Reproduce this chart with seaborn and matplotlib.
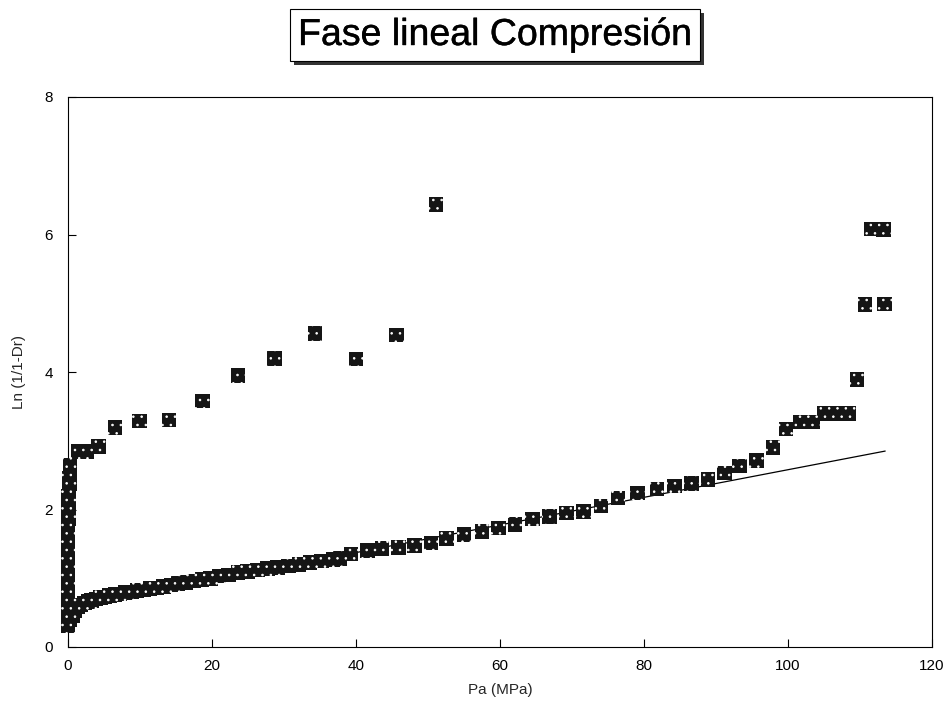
import numpy as np
import pandas as pd
import matplotlib
matplotlib.use("Agg")
import matplotlib.pyplot as plt
import matplotlib.patheffects as pe
import seaborn as sns

# ---- data ----
# vertical column near Pa = 0
col_x = [0.0, 0.0, 0.0, 0.0, 0.0, 0.0, 0.0, 0.0, 0.0, 0.0, 0.0, 0.0, 0.0,
         0.0, 0.0, 0.05, 0.05, 0.1, 0.1, 0.15, 0.2, 0.2, 0.25, 0.3, 0.3]
col_y = [0.31, 0.36, 0.44, 0.52, 0.61, 0.72, 0.83, 0.95, 1.06, 1.18, 1.29,
         1.40, 1.52, 1.63, 1.75, 1.86, 1.97, 2.08, 2.19, 2.29, 2.38, 2.46,
         2.53, 2.59, 2.64]

# upper branch
up_x = [1.4, 2.6, 4.2, 6.5, 9.9, 14.0, 18.7, 23.6, 28.7, 34.3, 40.0, 45.6, 51.1]
up_y = [2.84, 2.84, 2.92, 3.19, 3.29, 3.30, 3.58, 3.95, 4.20, 4.56, 4.19, 4.54, 6.44]

# lower (linear) branch
low_x = [0.3, 0.6, 1.0, 1.4, 1.8, 2.3, 2.8, 3.3, 3.9, 4.5, 5.1, 5.8, 6.5, 7.2,
         8.0, 8.8, 9.6, 10.5, 11.4, 12.3, 13.3, 14.3, 15.3, 16.4, 17.5, 18.6,
         19.8, 21.0, 22.3, 23.6, 24.9, 26.3, 27.7, 29.1, 30.6, 32.1, 33.6,
         35.2, 36.8, 37.8, 39.3, 41.6, 43.6, 45.9, 48.1, 50.4, 52.6, 55.0,
         57.5, 59.8, 62.1, 64.5, 66.9, 69.2, 71.6, 74.0, 76.4, 79.1, 81.8,
         84.2, 86.6, 88.9, 91.2, 93.3, 95.6, 97.9, 99.7, 101.7, 103.5, 105.1,
         106.8, 108.4, 109.6, 110.7, 111.6, 113.3, 113.4]
low_y = [0.40, 0.46, 0.53, 0.58, 0.61, 0.64, 0.66, 0.68, 0.70, 0.72, 0.73,
         0.75, 0.76, 0.77, 0.79, 0.80, 0.82, 0.83, 0.85, 0.86, 0.88, 0.90,
         0.92, 0.94, 0.96, 0.98, 1.00, 1.03, 1.05, 1.08, 1.10, 1.12, 1.14,
         1.16, 1.18, 1.20, 1.23, 1.25, 1.27, 1.29, 1.35, 1.40, 1.43, 1.45,
         1.48, 1.51, 1.58, 1.64, 1.68, 1.73, 1.78, 1.86, 1.90, 1.95, 1.97,
         2.05, 2.17, 2.24, 2.30, 2.34, 2.38, 2.44, 2.53, 2.63, 2.71, 2.90,
         3.17, 3.27, 3.27, 3.40, 3.40, 3.40, 3.89, 4.98, 6.08, 6.07, 4.99]

# fitted line
line_x = [0.0, 113.5]
line_y = [0.57, 2.85]

x_ticks = [0, 20, 40, 60, 80, 100, 120]
y_ticks = [0, 2, 4, 6, 8]

title = "Fase lineal Compresión"
xlabel = "Pa (MPa)"
ylabel = "Ln (1/1-Dr)"

# ---- plot ----
sns.set_theme(style="white")
plt.rcParams["font.family"] = ["Liberation Sans", "DejaVu Sans"]
plt.rcParams["hatch.linewidth"] = 0.6

fig = plt.figure(figsize=(9.52, 7.14), dpi=100)
ax = fig.add_axes([68 / 952, 1 - 647 / 714, (932 - 68) / 952, (647 - 97) / 714])

pts = pd.DataFrame({"Pa": col_x + up_x + low_x, "Ln": col_y + up_y + low_y})
lin = pd.DataFrame({"Pa": line_x, "Ln": line_y})

sns.lineplot(data=lin, x="Pa", y="Ln", ax=ax, color="black", linewidth=0.9,
             zorder=2)
# stippled fill: dark face with white dot hatch (hatch colour = edge colour)
sns.scatterplot(data=pts, x="Pa", y="Ln", ax=ax, marker="s", s=110,
                facecolor="#151515", edgecolor="#ffffff", linewidth=0,
                hatch="..", zorder=3, clip_on=False)

ax.set_xlim(0, 120)
ax.set_ylim(0, 8)
ax.set_xticks(x_ticks)
ax.set_yticks(y_ticks)
ax.set_xlabel(xlabel, fontsize=11, labelpad=7)
ax.set_ylabel(ylabel, fontsize=11, labelpad=13)
ax.tick_params(axis="both", direction="in", length=6, width=0.8,
               labelsize=11, colors="black", bottom=True, left=True)
ax.tick_params(axis="x", pad=9)
ax.tick_params(axis="y", pad=11)
for sp in ax.spines.values():
    sp.set_color("black")
    sp.set_linewidth(0.8)

t = fig.text(495 / 952, 1 - 35 / 714, title, ha="center", va="center",
             fontsize=27, color="black",
             bbox=dict(boxstyle="square,pad=0.22", facecolor="white",
                       edgecolor="black", linewidth=0.8))
t.set_path_effects([pe.withStroke(linewidth=0.3, foreground="black")])
t.get_bbox_patch().set_path_effects([
    pe.withSimplePatchShadow(offset=(3, -3), shadow_rgbFace="black", alpha=0.8)
])

fig.savefig("out.png", dpi=100, facecolor="white")
